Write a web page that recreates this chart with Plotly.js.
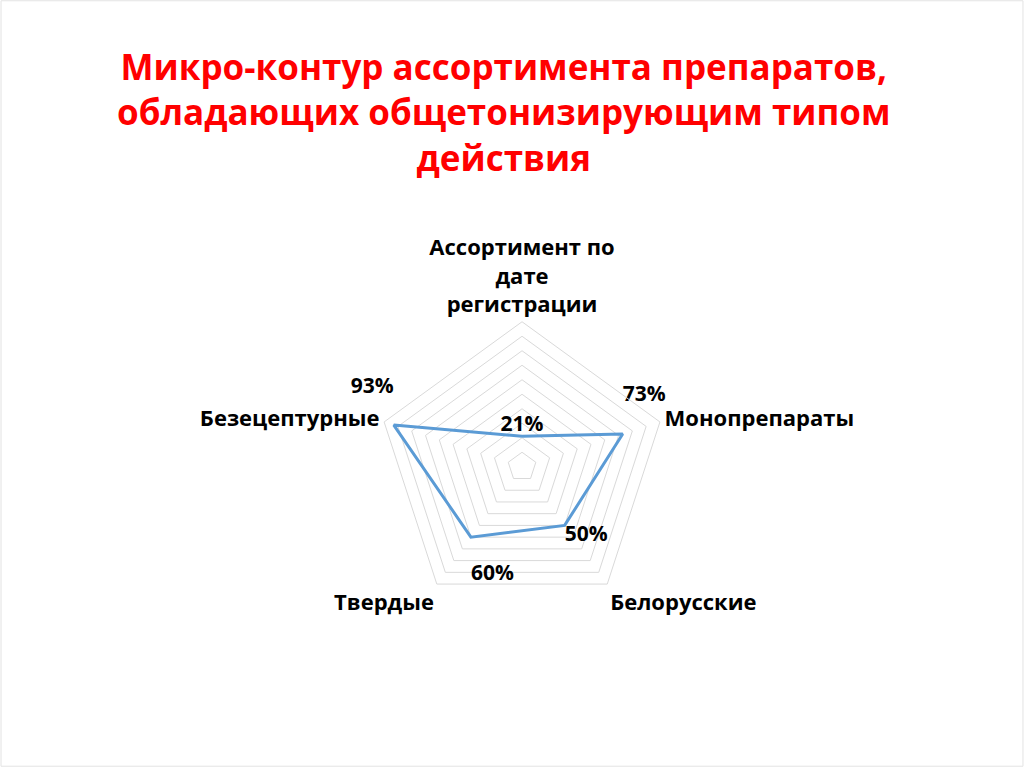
<!DOCTYPE html>
<html>
<head>
<meta charset="utf-8">
<script src="https://cdn.plot.ly/plotly-3.0.1.min.js"></script>
<style>
  html, body { margin: 0; padding: 0; background: #fff; }
  #chart { width: 1024px; height: 767px; }
</style>
</head>
<body>
<div id="chart"></div>
<script>
// categories, clockwise from the top
const categories = ['Ассортимент по дате регистрации', 'Монопрепараты', 'Белорусские', 'Твердые', 'Безецептурные']
const categoryLabels = ['Ассортимент по<br>дате<br>регистрации', 'Монопрепараты', 'Белорусские', 'Твердые', 'Безецептурные']
const shares = [0.21, 0.73, 0.50, 0.60, 0.93]
// blank lines push the labels a bit further from their points, like the original
const shareLabels = ['21%', '73%<br> ', '50%', ' <br>60%', '93%<br> ']
const labelPos = ['top center', 'top right', 'bottom right', 'bottom right', 'top left']

const font = 'Open Sans, Noto Sans, sans-serif'

const trace = {
  type: 'scatterpolar',
  mode: 'lines+text',
  r: shares.concat([shares[0]]),
  theta: categories.concat([categories[0]]),
  text: shareLabels.concat(['']),
  textposition: labelPos.concat(['top center']),
  textfont: { family: font, size: 21, color: '#000', weight: 'bold' },
  line: { color: '#5b9bd5', width: 3 },
  cliponaxis: false,
  hoverinfo: 'skip'
}

const layout = {
  width: 1024,
  height: 767,
  margin: { l: 0, r: 0, t: 0, b: 0 },
  paper_bgcolor: '#fff',
  showlegend: false,
  title: {
    text: 'Микро-контур ассортимента препаратов,<br>обладающих общетонизирующим типом<br>действия',
    font: { family: font, size: 35, color: '#ff0000', weight: 'bold' },
    x: 0.492, xanchor: 'center',
    y: 0.896, yanchor: 'top'
  },
  shapes: [{
    type: 'rect', xref: 'paper', yref: 'paper',
    x0: 0.001, x1: 0.999, y0: 0.001, y1: 0.999,
    line: { color: '#e3e3e3', width: 1 }
  }],
  polar: {
    domain: { x: [0.3682, 0.6514], y: [0.2024, 0.5805] },
    bgcolor: '#fff',
    gridshape: 'linear',
    radialaxis: {
      range: [0, 1],
      dtick: 0.1,
      showticklabels: false,
      ticks: '',
      showline: false,
      gridcolor: '#d9d9d9',
      gridwidth: 1,
      angle: 90
    },
    angularaxis: {
      direction: 'clockwise',
      rotation: 90,
      tickvals: categories,
      ticktext: categoryLabels,
      ticks: '',
      showgrid: false,
      showline: true,
      linecolor: '#d9d9d9',
      linewidth: 1,
      tickfont: { family: font, size: 22, color: '#000', weight: 'bold' }
    }
  }
}

Plotly.newPlot('chart', [trace], layout, { displayModeBar: false, staticPlot: true })
</script>
</body>
</html>
